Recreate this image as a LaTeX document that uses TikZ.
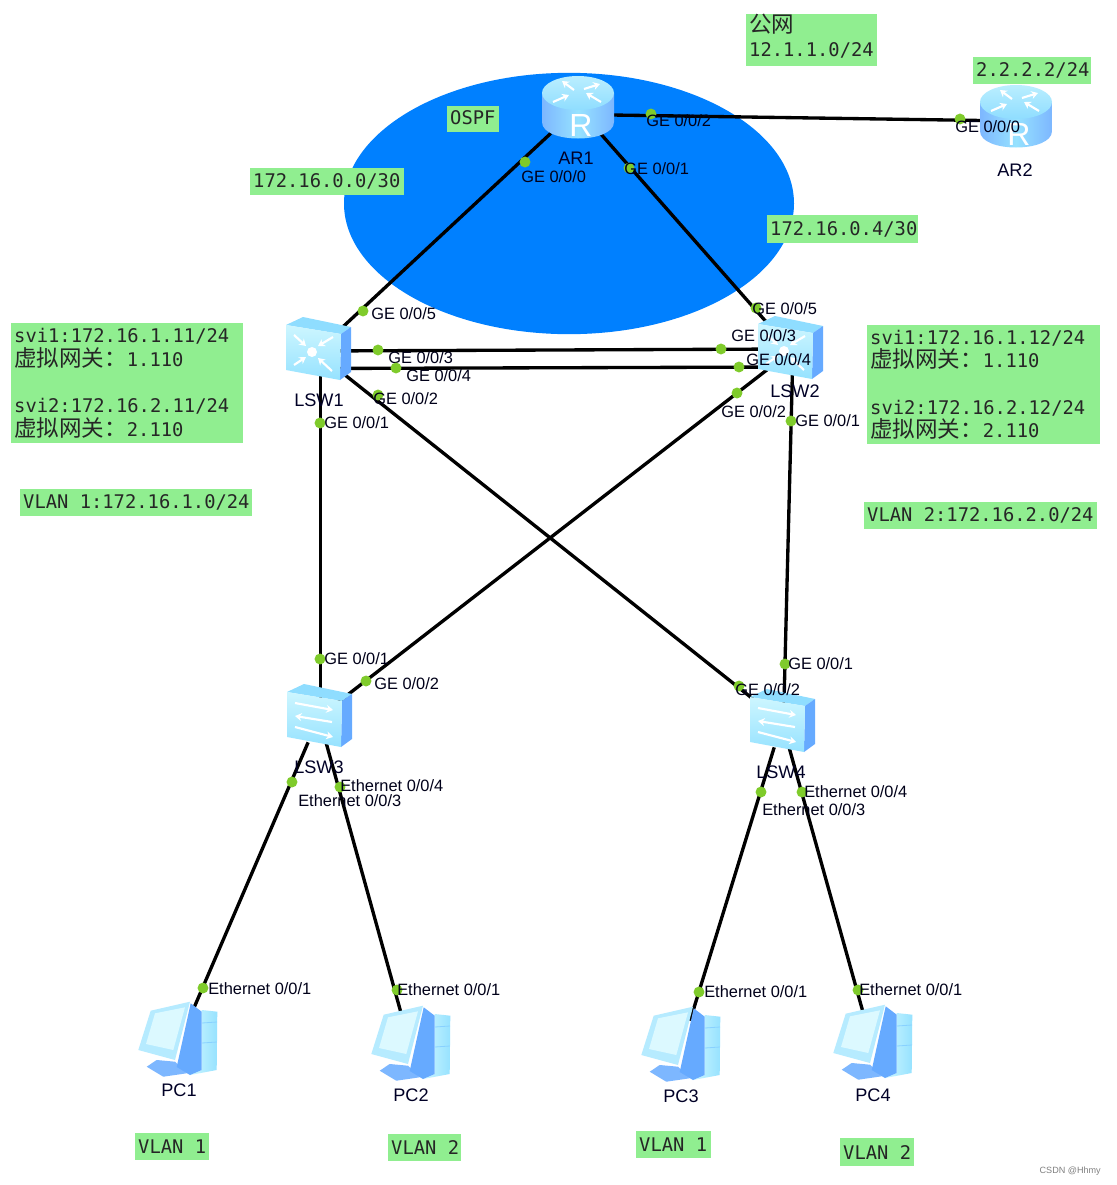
\documentclass[tikz,border=0pt]{standalone}
\usepackage{fontspec}
\setmainfont{Liberation Sans}
\newfontfamily\monof{DejaVu Sans Mono}
\newfontfamily\cjkf{Noto Sans CJK SC}
\usetikzlibrary{arrows.meta,calc,shapes.geometric}
\definecolor{gbox}{HTML}{90EE90}
\definecolor{ospfblue}{HTML}{0080FF}
\definecolor{portgreen}{HTML}{7FCB2B}
\definecolor{icSide}{HTML}{66AAFF}
\definecolor{icTop}{HTML}{8FDDFF}
\definecolor{icLight}{HTML}{CDF6FF}
\definecolor{icMid}{HTML}{96E2FF}
\newcommand{\cn}[1]{{\cjkf\fontsize{16.9}{17.6}\selectfont #1}}
\newcommand{\msp}{\kern8.49pt\relax}
\newcommand{\greenbox}[6]{%
  \pgfmathsetmacro{\tw}{(#4-6)*.75}%
  \node[greenlabel,text width=\tw pt,minimum height=#5*.75pt] (#1) at (#2,#3) {#6};}
\newcommand{\port}[6]{%
  \node[portdot] (#1d) at (#2,#3) {};
  \node[portlabel] (#1l) at (#4,#5) {#6};}
\tikzset{
  x=.75pt,y=-.75pt,
  link/.style={draw=black,line width=2.5pt},
  devspot/.style={inner sep=0pt,outer sep=0pt},
  routerspot/.style={devspot,minimum width=50pt,minimum height=38pt},
  switchspot/.style={devspot,minimum width=38pt,minimum height=38pt},
  pcspot/.style={devspot,minimum width=30pt,minimum height=44pt},
  portdot/.style={circle,fill=portgreen,inner sep=0pt,minimum size=8.2pt},
  portlabel/.style={anchor=west,inner sep=0pt,font=\fontsize{12.3}{14}\selectfont,text=black!90!blue},
  devlabel/.style={inner sep=0pt,font=\fontsize{13.6}{15}\selectfont,text=black!85!blue},
  greenlabel/.style={anchor=north west,fill=gbox,inner xsep=2.2pt,inner ysep=0pt,align=left,
     font=\monof\fontsize{14.1}{17.6}\selectfont,text=black!85},
  icarrow/.style={draw=white,line width=1.6pt,-{Stealth[length=5pt,width=6pt]}},
  routericon/.pic={
    \path[left color=icSide!85!white,right color=icSide!85!white,middle color=icMid]
      (-36,-15) -- (-36,14) .. controls (-36,36) and (36,36) .. (36,14) -- (36,-15) -- cycle;
    \path[top color=icLight!70!icTop,bottom color=icTop] (0,-15) ellipse [x radius=36,y radius=17];
    \draw[icarrow] (-4,-18) -- (-16,-27);
    \draw[icarrow] (6,-19) -- (22,-24);
    \draw[icarrow] (-25,-6) -- (-9,-13);
    \draw[icarrow] (23,-6) -- (8,-15);
    \node[inner sep=0pt,text=white,font=\fontsize{24}{24}\selectfont] (glyph) at (3,17) {R};
  },
  switchbody/.pic={
    \fill[icTop] (-32,-25) -- (-15,-33) -- (33,-23) -- (23,-16) -- cycle;
    \fill[icSide] (23,-16) -- (33,-23) -- (33,22) -- (22,30) -- cycle;
    \path[top color=icLight,bottom color=icMid] (-32,-25) -- (23,-16) -- (22,30) -- (-32,20) -- cycle;
  },
  coreicon/.pic={
    \pic {switchbody};
    \fill[white] (-6,2) circle [radius=5];
    \draw[icarrow] (-24,-15) -- (-12,-4);
    \draw[icarrow] (15,-13) -- (0,-4);
    \draw[icarrow] (-24,15) -- (-12,7);
    \draw[icarrow] (14,21) -- (0,8);
  },
  accessicon/.pic={
    \pic {switchbody};
    \draw[icarrow] (-24,-14) -- (14,-7);
    \draw[icarrow] (13,5) -- (-24,-1);
    \draw[icarrow] (-24,10) -- (14,20);
  },
  pcicon/.pic={
    \path[left color=icLight,right color=icMid] (12,30) -- (23.7,25) -- (23.7,-35) -- (39.3,-33.3) -- (38.7,25) -- cycle;
    \draw[icMid!70!icSide,line width=.6pt] (24,-22) -- (39,-23);
    \draw[icMid!70!icSide,line width=.6pt] (24,-2) -- (39,-3);
    \fill[icSide!85!white] (-31.3,21.7) -- (-21.3,15) -- (-3,16.7) -- (8.7,28.3) -- (-14.7,31.7) -- cycle;
    \fill[icSide] (12.7,-41.7) -- (23.7,-33.3) -- (23.7,25) -- (12,30) -- (-1.3,22) -- cycle;
    \fill[icMid!70!white] (-27.3,-34.3) -- (12,-43.3) -- (-3,15) -- (-39.7,5) -- cycle;
    \fill[icLight!70!white] (-23,-31.7) -- (7,-37.7) -- (-4.7,5) -- (-32,-1) -- cycle;
  },
}
\begin{document}
\begin{tikzpicture}
\useasboundingbox (0,0) rectangle (1117,1185);
\fill[white] (0,0) rectangle (1117,1185);
% OSPF area
\node[ellipse,fill=ospfblue,inner sep=0pt,minimum width=337.5pt,minimum height=196pt] (ospfarea) at (569,203.5) {};
% device anchors
\node[routerspot] (ar1) at (578,108) {};
\node[routerspot] (ar2) at (1016,117) {};
\node[switchspot] (lsw1) at (318,350) {};
\node[switchspot] (lsw2) at (790,349) {};
\node[switchspot] (lsw3) at (319,717) {};
\node[switchspot] (lsw4) at (782,722) {};
\node[pcspot] (pc1) at (178,1045) {};
\node[pcspot] (pc2) at (411,1049) {};
\node[pcspot] (pc3) at (681,1050) {};
\node[pcspot] (pc4) at (873,1048) {};
% connectors
\draw[link] (ar1) -- (lsw1);
\draw[link] (ar1) -- (lsw2);
\draw[link] ($(ar1)+(0,6.5)$) -- ($(ar2)+(0,4)$);
\draw[link] ($(lsw1)+(0,1)$) -- (lsw2.center);
\draw[link] ($(lsw1)+(0,18.5)$) -- ($(lsw2)+(0,18)$);
\draw[link] ($(lsw1)+(2.5,0)$) -- ($(lsw3)+(1.5,0)$);
\draw[link] ($(lsw1)+(0,3.5)$) -- (lsw4.center);
\draw[link] ($(lsw2)+(0,3)$) -- (lsw3.center);
\draw[link] ($(lsw2)+(3,0)$) -- ($(lsw4)+(1.5,0)$);
\draw[link] (lsw3) -- (pc1);
\draw[link] (lsw3) -- (pc2);
\draw[link] (lsw4) -- (pc3);
\draw[link] (lsw4) -- (pc4);
% icons
\pic (ar1i) at (ar1) {routericon};
\pic (ar2i) at (ar2) {routericon};
\pic at (lsw1) {coreicon};
\pic at (lsw2) {coreicon};
\pic at (lsw3) {accessicon};
\pic at (lsw4) {accessicon};
\pic at (pc1) {pcicon};
\pic at (pc2) {pcicon};
\pic at (pc3) {pcicon};
\pic at (pc4) {pcicon};
% device names
\node[devlabel] (ar1n) at (576,158) {AR1};
\node[devlabel] (ar2n) at (1015,170) {AR2};
\node[devlabel] (lsw1n) at (319,400) {LSW1};
\node[devlabel] (lsw2n) at (795,391) {LSW2};
\node[devlabel] (lsw3n) at (319,767) {LSW3};
\node[devlabel] (lsw4n) at (781,772) {LSW4};
\node[devlabel] (pc1n) at (179,1090) {PC1};
\node[devlabel] (pc2n) at (411,1095) {PC2};
\node[devlabel] (pc3n) at (681,1096) {PC3};
\node[devlabel] (pc4n) at (873,1095) {PC4};
% ports
\port{a}{525}{162}{521}{177}{GE 0/0/0}
\port{b}{629}{168}{624}{169}{GE 0/0/1}
\port{c}{651}{114}{646}{121}{GE 0/0/2}
\port{e}{960}{119}{955}{127}{GE 0/0/0}
\port{f}{363}{311}{371}{314}{GE 0/0/5}
\port{g}{378}{350}{388}{358}{GE 0/0/3}
\port{h}{396}{368}{406}{376}{GE 0/0/4}
\port{i}{378}{395}{373}{399}{GE 0/0/2}
\port{j}{320}{423}{324}{423}{GE 0/0/1}
\port{k}{756}{308}{752}{309}{GE 0/0/5}
\port{m}{721}{349}{731}{336}{GE 0/0/3}
\port{n}{739}{367}{746}{360}{GE 0/0/4}
\port{o}{737}{393}{721}{412}{GE 0/0/2}
\port{p}{791}{421}{795}{421}{GE 0/0/1}
\port{q}{320}{659}{324}{659}{GE 0/0/1}
\port{r}{366}{681}{374}{684}{GE 0/0/2}
\port{s}{292}{782}{298}{801}{Ethernet 0/0/3}
\port{t}{340}{787}{340}{786}{Ethernet 0/0/4}
\port{u}{785}{664}{788}{664}{GE 0/0/1}
\port{v}{739}{686}{735}{690}{GE 0/0/2}
\port{w}{761}{792}{762}{810}{Ethernet 0/0/3}
\port{x}{802}{792}{804}{792}{Ethernet 0/0/4}
\port{y}{203}{988}{208}{989}{Ethernet 0/0/1}
\port{z}{397}{990}{397}{990}{Ethernet 0/0/1}
\port{aa}{699}{992}{704}{992}{Ethernet 0/0/1}
\port{ab}{858}{990}{859}{990}{Ethernet 0/0/1}
% green notes
\greenbox{pub}{746}{14}{131}{50}{\cn{公网}\\12.1.1.0/24\rule[-7.5pt]{0pt}{0pt}}
\greenbox{loop}{973}{57}{118}{27}{2.2.2.2/24}
\greenbox{ospf}{447}{106}{52}{26}{OSPF\rule[-3pt]{0pt}{0pt}}
\greenbox{neta}{250}{168}{154}{27}{172.16.0.0/30}
\greenbox{netb}{767}{215}{151}{28}{172.16.0.4/30}
\greenbox{svil}{11}{323}{232}{120}{svi1:172.16.1.11/24\\\cn{虚拟网关：}1.110\\\mbox{}\\svi2:172.16.2.11/24\\\cn{虚拟网关：}2.110}
\greenbox{svir}{867}{325}{233}{119}{svi1:172.16.1.12/24\\\cn{虚拟网关：}1.110\\\mbox{}\\svi2:172.16.2.12/24\\\cn{虚拟网关：}2.110}
\greenbox{vla}{20}{489}{232}{27}{VLAN\msp 1:172.16.1.0/24}
\greenbox{vlb}{864}{502}{233}{27}{VLAN\msp 2:172.16.2.0/24}
\greenbox{va}{135}{1133}{74}{27}{VLAN\msp 1}
\greenbox{vb}{388}{1134}{73}{27}{VLAN\msp 2}
\greenbox{vc}{636}{1131}{75}{27}{VLAN\msp 1}
\greenbox{vd}{840}{1138}{74}{28}{VLAN\msp 2}
\node[anchor=east,inner sep=0pt,text=black!50,font=\fontsize{6.8}{8}\selectfont] (mark) at (1101,1171) {CSDN @Hhmy};
\end{tikzpicture}
\end{document}
